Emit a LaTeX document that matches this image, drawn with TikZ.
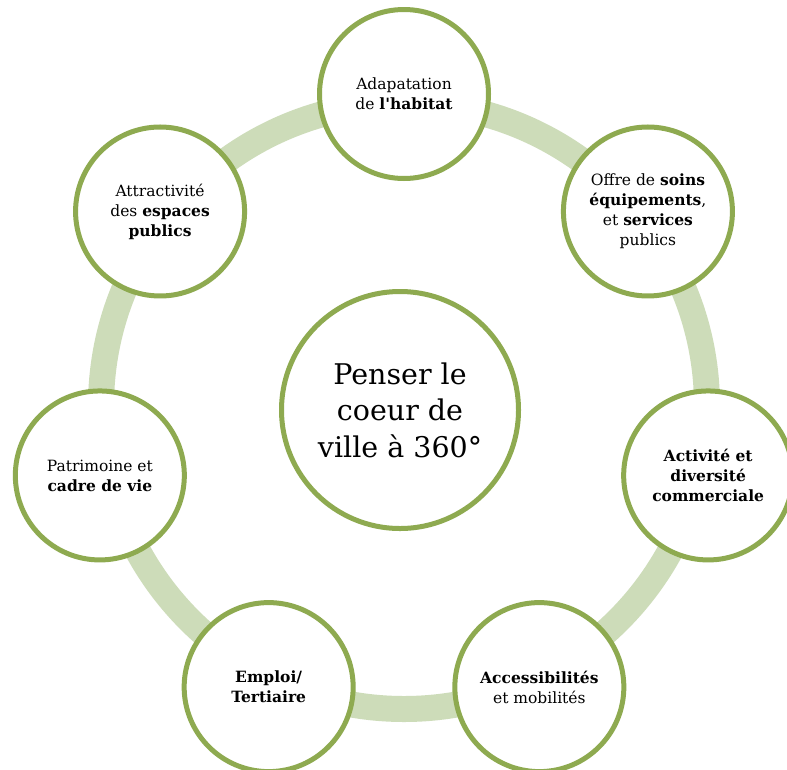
\documentclass[tikz,border=0pt]{standalone}
\usepackage{fontspec}
\setmainfont{DejaVu Serif}
\usetikzlibrary{calc}
\begin{document}
\begin{tikzpicture}[x=1pt,y=-1pt,
  band/.style={draw=ringgreen,line width=26pt},
  topic/.style={circle,draw=circgreen,fill=white,line width=5pt,minimum size=169pt,inner sep=0pt,align=center,font=\fontsize{15.5}{20}\selectfont},
  hub/.style={circle,draw=circgreen,fill=white,line width=5pt,minimum size=237pt,inner sep=0pt,align=center,font=\fontsize{28.5}{36.5}\selectfont}]
\definecolor{ringgreen}{RGB}{205,220,185}
\definecolor{circgreen}{RGB}{142,170,80}
\useasboundingbox (0,0) rectangle (787,769);
\clip (0,0) rectangle (787,769);
\fill[white] (0,0) rectangle (787,769);
\coordinate (O) at (404,406);
\draw[band] (O) circle (303);
\node[hub] (c) at (400,410) {Penser le\\coeur de\\ville à 360°};
\node[topic] (t1) at ($(O)+(-90:312)$) {Adapatation\\de \textbf{l\textquotesingle habitat}};
\node[topic] (t2) at ($(O)+(-38.57:312)$) {Offre de \textbf{soins}\\\textbf{équipements},\\et \textbf{services}\\publics};
\node[topic] (t3) at ($(O)+(12.86:312)$) {\textbf{Activité et}\\\textbf{diversité}\\\textbf{commerciale}};
\node[topic] (t4) at ($(O)+(64.29:312)$) {\textbf{Accessibilités}\\et mobilités};
\node[topic] (t5) at ($(O)+(115.71:312)$) {\textbf{Emploi/}\\\textbf{Tertiaire}};
\node[topic] (t6) at ($(O)+(167.14:312)$) {Patrimoine et\\\textbf{cadre de vie}};
\node[topic] (t7) at ($(O)+(218.57:312)$) {Attractivité\\des \textbf{espaces}\\\textbf{publics}};
\end{tikzpicture}
\end{document}
